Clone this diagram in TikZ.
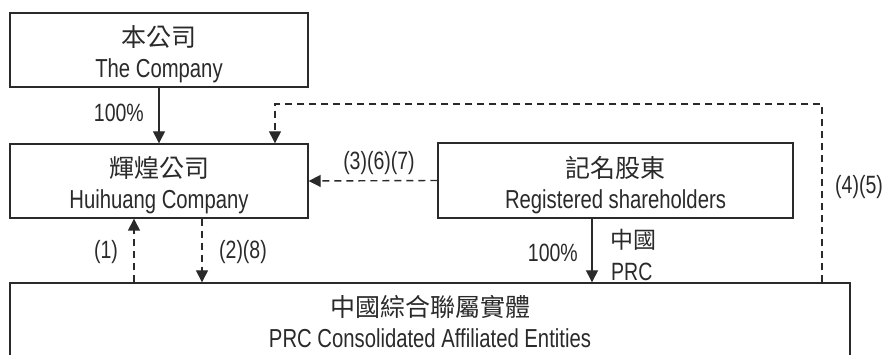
\documentclass[tikz,border=0pt]{standalone}
\usepackage{fontspec}
\setmainfont{Liberation Sans}[FakeStretch=0.78]
\newfontfamily\cjk{Noto Sans CJK TC}
\usetikzlibrary{arrows.meta}
\definecolor{ink}{HTML}{2A2A2A}
\newcommand\zhline[1]{{\cjk\fontsize{25}{31}\selectfont\rule{0pt}{30pt}#1}}
\begin{document}
\begin{tikzpicture}[x=1pt,y=-1pt,
  box/.style={draw=ink, line width=1.4pt, align=center, text=ink,
    font=\fontsize{26}{31}\selectfont, inner sep=0pt},
  lbl/.style={text=ink, font=\fontsize{25}{28}\selectfont, inner sep=0pt},
  solidarr/.style={draw=ink, line width=1.4pt, -{Triangle[length=12pt,width=12pt]}},
  dasharr/.style={solidarr, dash pattern=on 7pt off 5pt}]
\useasboundingbox (0,0) rectangle (886,355);
\clip (0,0) rectangle (886,355);
\fill[white] (0,0) rectangle (886,355);

\node[box, minimum width=298pt, minimum height=74pt] (comp) at (159,50)
  {\zhline{本公司}\\The Company};
\node[box, minimum width=298pt, minimum height=74pt] (hh) at (159,181)
  {\zhline{輝煌公司}\\Huihuang Company};
\node[box, minimum width=355pt, minimum height=75pt] (reg) at (615.5,180.5)
  {\zhline{記名股東}\\Registered shareholders};
\node[box, minimum width=840pt, minimum height=84pt] (bot) at (430,325)
  {\zhline{中國綜合聯屬實體}\\PRC Consolidated Affiliated Entities\rule[-17pt]{0pt}{1pt}};

% The Company -> Huihuang
\draw[solidarr] (comp.south) -- (hh.north);
\node[lbl, anchor=east] (p100a) at (144,113) {100\%};

% Registered shareholders -> Huihuang
\draw[dasharr] (reg.west) -- (hh.east);
\node[lbl] (l367) at (379,163) {(3)(6)(7)};

% (4)(5) loop
\coordinate (c45a) at (822,104);
\coordinate (c45b) at (275,104);
\draw[dasharr] (bot.north -| c45a) -- (c45a) -- (c45b) -- (hh.north -| c45b);
\node[lbl] (l45) at (859,187) {(4)(5)};

% (1) and (2)(8)
\coordinate (x1) at (134,0);
\draw[dasharr] (bot.north -| x1) -- (hh.south -| x1);
\node[lbl] (l1) at (106,252) {(1)};
\coordinate (x28) at (202,0);
\draw[dasharr] (hh.south -| x28) -- (bot.north -| x28);
\node[lbl] (l28) at (243,252) {(2)(8)};

% Registered shareholders -> PRC entities
\coordinate (xr) at (592,0);
\draw[solidarr] (reg.south -| xr) -- (bot.north -| xr);
\node[lbl, anchor=east] (p100b) at (578,253) {100\%};
\node[lbl, anchor=west, font=\cjk\fontsize{23}{26}\selectfont] (zg) at (610,240) {中國};
\node[lbl, anchor=west] (prc) at (611,272) {PRC};
\end{tikzpicture}
\end{document}
